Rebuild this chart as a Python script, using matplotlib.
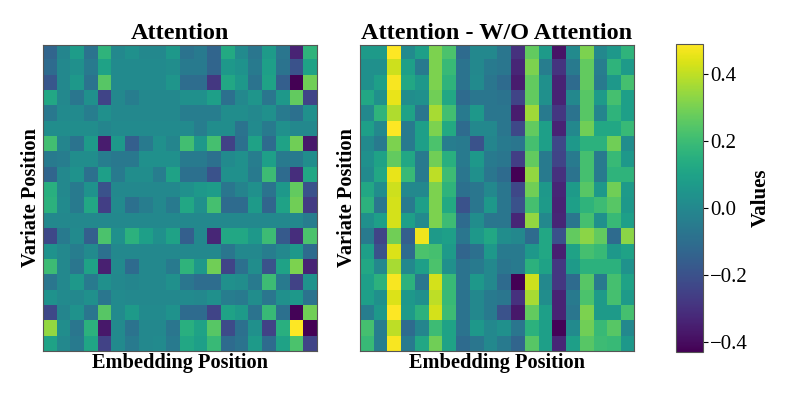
import numpy as np
import matplotlib
matplotlib.use("Agg")
import matplotlib.pyplot as plt

# ----------------------------------------------------------------------
# Data (20 variates x 20 embedding positions)
# ----------------------------------------------------------------------
titles = ["Attention", "Attention - W/O Attention"]
xlabel = "Embedding Position"
ylabel = "Variate Position"
cbar_label = "Values"
cbar_ticks = [-0.4, -0.2, 0.0, 0.2, 0.4]
vmin, vmax = -0.43, 0.49

attention = [
    [-0.13, -0.01, 0.08, -0.08, 0.17, 0.0, 0.03, 0.0, 0.0, 0.06, -0.08, -0.05, -0.13, 0.13, 0.01, -0.07, 0.07, -0.07, -0.34, 0.17],
    [-0.11, 0.0, 0.03, -0.05, 0.10, 0.01, 0.01, 0.01, 0.01, 0.02, -0.05, -0.05, -0.13, 0.06, 0.04, -0.05, 0.09, -0.08, -0.20, 0.10],
    [-0.18, 0.0, 0.06, -0.08, 0.25, 0.01, 0.01, 0.01, 0.01, 0.05, -0.10, -0.10, -0.28, 0.12, 0.06, -0.08, 0.10, -0.15, -0.43, 0.29],
    [0.12, 0.0, -0.07, 0.03, -0.24, 0.0, -0.04, 0.0, 0.0, 0.0, 0.03, 0.03, 0.09, -0.09, 0.0, 0.05, -0.07, 0.06, 0.27, -0.24],
    [-0.06, 0.01, 0.01, -0.04, 0.03, 0.0, 0.0, 0.0, 0.0, 0.0, -0.04, -0.04, -0.04, 0.02, 0.02, 0.0, 0.03, -0.05, -0.09, 0.03],
    [0.02, 0.02, 0.02, 0.02, -0.01, 0.01, 0.01, 0.01, 0.01, 0.01, 0.01, -0.04, 0.02, 0.02, -0.08, 0.01, -0.05, 0.03, 0.0, 0.0],
    [0.21, -0.01, -0.08, 0.07, -0.36, 0.06, -0.15, -0.05, 0.03, -0.01, 0.21, 0.06, 0.22, -0.25, -0.09, 0.10, -0.11, 0.10, 0.29, -0.37],
    [-0.05, -0.04, 0.02, 0.02, -0.04, -0.06, -0.06, 0.03, 0.03, 0.03, -0.05, -0.05, -0.09, 0.01, 0.03, -0.04, 0.09, -0.05, -0.05, 0.02],
    [-0.13, 0.0, 0.04, -0.09, 0.09, -0.05, 0.02, 0.02, -0.04, 0.10, -0.09, -0.09, -0.20, 0.03, 0.03, -0.05, 0.20, -0.11, -0.31, 0.12],
    [0.15, 0.0, -0.05, 0.04, -0.20, 0.0, 0.0, 0.0, 0.0, 0.0, 0.03, 0.06, 0.08, -0.07, -0.02, 0.03, -0.08, 0.06, 0.27, -0.20],
    [0.16, 0.01, -0.05, 0.12, -0.26, 0.01, -0.09, -0.04, 0.0, -0.05, 0.12, 0.03, 0.22, -0.11, -0.11, 0.07, -0.13, 0.10, 0.29, -0.27],
    [0.0, 0.0, 0.0, 0.0, 0.0, 0.0, 0.0, 0.0, 0.0, 0.0, 0.0, 0.0, 0.0, 0.0, 0.0, 0.0, 0.0, 0.0, 0.0, -0.04],
    [-0.23, -0.05, 0.01, -0.15, 0.23, 0.03, 0.16, 0.09, 0.03, 0.10, -0.15, 0.0, -0.33, 0.12, 0.12, 0.06, 0.20, -0.17, -0.31, 0.23],
    [0.04, 0.0, -0.04, 0.01, -0.09, 0.0, 0.0, 0.0, 0.0, 0.0, 0.0, 0.0, 0.0, -0.07, 0.0, 0.0, -0.04, 0.0, 0.06, -0.11],
    [0.20, 0.0, -0.07, 0.10, -0.35, 0.01, -0.11, 0.0, 0.0, -0.05, 0.17, 0.06, 0.29, -0.24, -0.09, 0.02, -0.20, 0.10, 0.31, -0.34],
    [-0.07, 0.0, 0.06, -0.05, 0.03, 0.0, -0.01, 0.0, 0.0, 0.03, -0.07, -0.10, -0.10, 0.03, 0.02, -0.05, 0.20, -0.05, -0.25, 0.04],
    [0.04, 0.01, 0.0, 0.03, -0.07, 0.01, 0.0, 0.0, 0.0, 0.0, 0.01, 0.0, 0.03, -0.04, -0.05, 0.02, -0.07, 0.03, 0.06, -0.08],
    [-0.23, -0.01, 0.04, -0.07, 0.25, 0.01, 0.07, 0.01, 0.01, 0.04, -0.11, -0.11, -0.24, 0.10, 0.07, -0.08, 0.19, -0.09, -0.42, 0.29],
    [0.34, 0.02, -0.07, 0.16, -0.37, 0.01, -0.08, 0.0, 0.0, -0.07, 0.15, 0.10, 0.25, -0.22, -0.09, 0.03, -0.25, 0.15, 0.49, -0.43],
    [0.10, 0.0, -0.05, 0.11, -0.25, 0.01, -0.05, 0.0, 0.01, -0.05, 0.12, 0.09, 0.19, -0.11, -0.08, 0.07, -0.11, 0.10, 0.23, -0.24],
]

attention_diff = [
    [0.07, 0.07, 0.49, 0.01, 0.09, 0.31, 0.23, -0.11, 0.0, 0.0, -0.07, -0.30, 0.27, 0.07, -0.38, 0.01, 0.31, 0.0, 0.06, 0.17],
    [0.03, 0.03, 0.42, 0.09, -0.05, 0.31, 0.19, -0.08, 0.0, -0.05, -0.07, -0.33, 0.31, -0.04, -0.29, -0.05, 0.27, -0.04, 0.17, 0.07],
    [0.03, 0.09, 0.48, 0.12, 0.06, 0.31, 0.17, -0.08, 0.01, -0.07, -0.11, -0.36, 0.27, 0.03, -0.34, -0.11, 0.27, -0.05, 0.06, 0.22],
    [0.12, 0.03, 0.46, 0.02, 0.03, 0.29, 0.12, -0.11, -0.07, -0.07, -0.08, -0.24, 0.27, 0.03, -0.34, 0.0, 0.25, 0.07, 0.22, 0.09],
    [0.0, 0.17, 0.38, 0.10, -0.07, 0.37, 0.21, -0.05, 0.06, -0.07, -0.07, -0.36, 0.36, -0.05, -0.28, -0.08, 0.25, -0.01, 0.17, 0.09],
    [0.09, 0.0, 0.49, -0.05, 0.09, 0.31, 0.13, -0.11, 0.0, 0.0, -0.07, -0.23, 0.27, 0.09, -0.34, 0.0, 0.29, 0.12, 0.12, 0.19],
    [0.01, -0.05, 0.31, -0.05, 0.09, 0.23, -0.04, -0.05, -0.20, -0.01, -0.05, -0.07, 0.22, 0.09, -0.23, 0.06, 0.16, 0.16, 0.29, 0.02],
    [0.03, 0.10, 0.27, 0.12, -0.05, 0.29, 0.15, -0.05, 0.06, -0.05, -0.07, -0.26, 0.27, -0.05, -0.24, -0.05, 0.22, -0.05, 0.19, 0.06],
    [0.01, 0.12, 0.46, 0.19, -0.05, 0.40, 0.20, -0.07, 0.03, -0.07, -0.11, -0.43, 0.34, -0.05, -0.30, -0.08, 0.22, -0.05, 0.17, 0.17],
    [0.12, 0.02, 0.42, 0.0, 0.0, 0.31, 0.17, -0.09, -0.07, 0.0, -0.07, -0.23, 0.29, 0.06, -0.33, 0.07, 0.25, 0.06, 0.29, 0.07],
    [0.16, -0.07, 0.43, -0.05, 0.09, 0.31, 0.13, -0.20, -0.07, 0.06, -0.07, -0.20, 0.22, 0.07, -0.34, 0.09, 0.17, 0.20, 0.25, 0.06],
    [0.03, 0.09, 0.43, 0.09, 0.01, 0.31, 0.20, -0.11, 0.02, -0.07, -0.07, -0.33, 0.34, 0.0, -0.33, -0.07, 0.22, 0.03, 0.19, 0.09],
    [-0.05, -0.24, 0.29, -0.15, 0.47, 0.07, 0.09, -0.07, 0.06, 0.12, 0.02, 0.0, -0.11, 0.12, -0.20, 0.27, 0.33, 0.27, -0.11, 0.33],
    [0.09, -0.20, 0.44, -0.11, 0.23, 0.22, 0.07, -0.13, -0.09, 0.06, -0.05, -0.05, 0.06, 0.12, -0.35, 0.10, 0.22, 0.19, 0.06, 0.10],
    [0.12, 0.0, 0.37, 0.0, 0.09, 0.23, 0.03, -0.08, -0.05, 0.0, -0.07, -0.05, 0.16, 0.10, -0.28, 0.07, 0.16, 0.16, 0.16, 0.04],
    [0.09, 0.16, 0.48, 0.16, -0.07, 0.43, 0.19, -0.08, 0.06, 0.0, -0.11, -0.43, 0.42, 0.0, -0.28, -0.11, 0.25, -0.05, 0.22, 0.10],
    [0.09, 0.03, 0.44, 0.06, 0.03, 0.40, 0.19, -0.08, 0.0, -0.05, -0.07, -0.30, 0.37, 0.02, -0.34, -0.05, 0.23, 0.07, 0.22, 0.07],
    [-0.04, 0.06, 0.49, 0.07, 0.16, 0.43, 0.20, -0.08, 0.0, -0.05, -0.20, -0.37, 0.27, 0.09, -0.34, -0.07, 0.31, 0.07, 0.07, 0.22],
    [0.22, -0.04, 0.40, -0.11, -0.01, 0.20, 0.10, -0.08, 0.06, 0.0, 0.03, -0.07, 0.16, 0.09, -0.42, 0.01, 0.29, 0.19, 0.25, 0.0],
    [0.19, -0.04, 0.48, -0.05, 0.12, 0.29, 0.10, -0.11, -0.07, 0.0, -0.05, -0.13, 0.25, 0.09, -0.33, 0.09, 0.25, 0.20, 0.19, 0.06],
]

# ----------------------------------------------------------------------
# Figure
# ----------------------------------------------------------------------
plt.rcParams["font.family"] = ["Liberation Serif", "DejaVu Serif"]
plt.rcParams["axes.edgecolor"] = "#555555"

fig = plt.figure(figsize=(7.89, 3.95), dpi=100)
ax_left = fig.add_axes([0.0549, 0.1122, 0.3465, 0.7747])
ax_right = fig.add_axes([0.4559, 0.1122, 0.3477, 0.7747])
cax = fig.add_axes([0.8568, 0.1096, 0.0342, 0.778])

for ax, data, title in zip([ax_left, ax_right], [attention, attention_diff], titles):
    im = ax.imshow(np.array(data), cmap="viridis", vmin=vmin, vmax=vmax,
                   aspect="auto", interpolation="nearest")
    ax.set_title(title, fontsize=17.5, fontweight="bold", pad=4)
    ax.set_xlabel(xlabel, fontsize=14.7, fontweight="bold", labelpad=2)
    ax.set_ylabel(ylabel, fontsize=14.7, fontweight="bold", labelpad=2)
    ax.set_xticks([])
    ax.set_yticks([])
    for s in ax.spines.values():
        s.set_linewidth(0.8)

cb = fig.colorbar(im, cax=cax, ticks=cbar_ticks)
cb.set_label(cbar_label, fontsize=15, fontweight="bold", labelpad=2)
cb.ax.tick_params(labelsize=15, pad=1.5)
cb.outline.set_edgecolor("#555555")
cb.outline.set_linewidth(0.8)

fig.savefig("out.png", dpi=100)
